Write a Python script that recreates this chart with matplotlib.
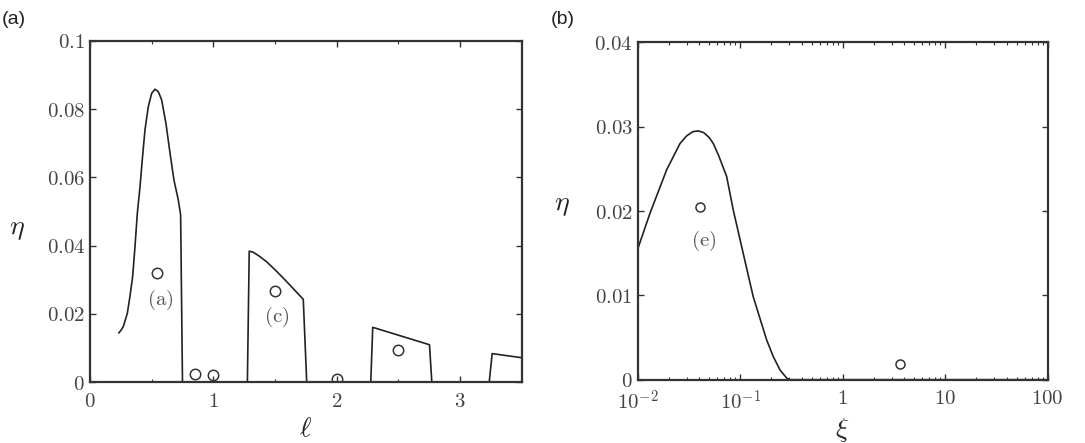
import numpy as np
import matplotlib.pyplot as plt
from matplotlib.ticker import FixedLocator, LogLocator, NullFormatter

plt.rcParams['mathtext.fontset'] = 'cm'
plt.rcParams['font.family'] = 'DejaVu Serif'

# panel (a): eta vs ell, four branches of the curve
seg1_x = [0.235, 0.249, 0.270, 0.303, 0.324, 0.346, 0.365, 0.384, 0.406, 0.424, 0.446, 0.473, 0.500,
          0.527, 0.554, 0.581, 0.616, 0.649, 0.681, 0.716, 0.735, 0.75]
seg1_y = [0.0145, 0.0151, 0.0163, 0.0202, 0.0251, 0.0309, 0.0397, 0.0495, 0.0573, 0.0651, 0.0739,
          0.0807, 0.0846, 0.0858, 0.0851, 0.0827, 0.0758, 0.0671, 0.0592, 0.0534, 0.049, 0.0]
seg2_x = [1.276, 1.291, 1.323, 1.37, 1.432, 1.51, 1.594, 1.729, 1.757]
seg2_y = [0.0, 0.0384, 0.0381, 0.0370, 0.0353, 0.0326, 0.0295, 0.0243, 0.0]
seg3_x = [2.276, 2.292, 2.752, 2.771]
seg3_y = [0.0, 0.0161, 0.0110, 0.0]
seg4_x = [3.236, 3.26, 3.5]
seg4_y = [0.0, 0.0084, 0.0072]
pts_a_x = [0.54, 0.852, 0.995, 1.5, 2.0, 2.5]
pts_a_y = [0.0321, 0.0025, 0.0020, 0.0267, 0.0010, 0.0094]
lab_a = ['(a)', '(c)']
lab_a_x = [0.568, 1.513]
lab_a_y = [0.024, 0.019]

# panel (b): eta vs xi (log)
curve_b_x = [0.01, 0.0132, 0.0192, 0.0259, 0.030, 0.0345, 0.039, 0.044, 0.050, 0.0547, 0.062, 0.0738,
             0.0857, 0.107, 0.134, 0.1815, 0.2106, 0.245, 0.284, 0.306, 1.0, 10.0, 100.0]
curve_b_y = [0.01547, 0.01974, 0.0249, 0.0280, 0.0289, 0.0294, 0.0295, 0.0293, 0.0287, 0.0280, 0.0265,
             0.0241, 0.0201, 0.0150, 0.00985, 0.0047, 0.00273, 0.00115, 0.0002, 0.0, 0.0, 0.0, 0.0]
pts_b_x = [0.0405, 3.62]
pts_b_y = [0.0205, 0.00186]

gray = '#333333'
tgray = '#444444'

fig = plt.figure(figsize=(10.85, 4.43), dpi=100)
ax1 = fig.add_axes([0.0829, 0.137, 0.398, 0.771])
ax2 = fig.add_axes([0.5877, 0.1429, 0.3779, 0.7616])

for ax in (ax1, ax2):
    for s in ax.spines.values():
        s.set_linewidth(1.6)
        s.set_color(gray)
    ax.tick_params(direction='in', which='both', top=True, right=True, colors=gray,
                   labelcolor=tgray, labelsize=15, length=4, width=1)
    ax.tick_params(which='minor', length=2.5, width=0.8)

# left panel
for sx, sy in [(seg1_x, seg1_y), (seg2_x, seg2_y), (seg3_x, seg3_y), (seg4_x, seg4_y)]:
    ax1.plot(sx, sy, color='#222222', lw=1.2)
ax1.plot(pts_a_x, pts_a_y, 'o', mfc='none', mec='#333333', ms=7.5, mew=1.1)
for t, x, y in zip(lab_a, lab_a_x, lab_a_y):
    ax1.text(x, y, r'$\mathrm{' + t + '}$', ha='center', va='center', fontsize=15, color='#555555')
ax1.set_xlim(0, 3.5)
ax1.set_ylim(0, 0.1)
ax1.xaxis.set_major_locator(FixedLocator([0, 1, 2, 3]))
ax1.xaxis.set_minor_locator(FixedLocator([0.5, 1.5, 2.5, 3.5]))
ax1.set_xticklabels(['$0$', '$1$', '$2$', '$3$'])
ax1.set_yticks([0, 0.02, 0.04, 0.06, 0.08, 0.1])
ax1.set_yticklabels(['$0$', '$0.02$', '$0.04$', '$0.06$', '$0.08$', '$0.1$'])
ax1.tick_params(axis='x', pad=7)
ax1.set_xlabel(r'$\ell$', fontsize=20, color='#222222', labelpad=3)
ax1.set_ylabel(r'$\eta$', fontsize=20, color='#222222', rotation=0)
ax1.yaxis.set_label_coords(-0.17, 0.41)

# right panel
ax2.plot(curve_b_x, curve_b_y, color='#222222', lw=1.2)
ax2.plot(pts_b_x, pts_b_y, 'o', mfc='none', mec='#333333', ms=6.5, mew=1.1)
ax2.text(0.0437, 0.0164, r'$\mathrm{(e)}$', ha='center', va='center', fontsize=15, color='#555555')
ax2.set_xscale('log')
ax2.set_xlim(0.01, 100)
ax2.set_ylim(0, 0.04)
ax2.xaxis.set_major_locator(FixedLocator([0.01, 0.1, 1, 10, 100]))
ax2.xaxis.set_minor_locator(LogLocator(base=10, subs=np.arange(2, 10)))
ax2.xaxis.set_minor_formatter(NullFormatter())
ax2.set_xticklabels(['$10^{-2}$', '$10^{-1}$', '$1$', '$10$', '$100$'])
ax2.set_yticks([0, 0.01, 0.02, 0.03, 0.04])
ax2.set_yticklabels(['$0$', '$0.01$', '$0.02$', '$0.03$', '$0.04$'])
ax2.tick_params(axis='x', pad=7)
ax2.set_xlabel(r'$\xi$', fontsize=20, color='#222222', labelpad=2)
ax2.set_ylabel(r'$\eta$', fontsize=20, color='#222222', rotation=0)
ax2.yaxis.set_label_coords(-0.185, 0.48)

fig.text(0.002, 0.975, '(a)', fontsize=14, family='Liberation Sans', va='top', color='#222222')
fig.text(0.508, 0.975, '(b)', fontsize=14, family='Liberation Sans', va='top', color='#222222')

fig.savefig('out.png', dpi=100)
